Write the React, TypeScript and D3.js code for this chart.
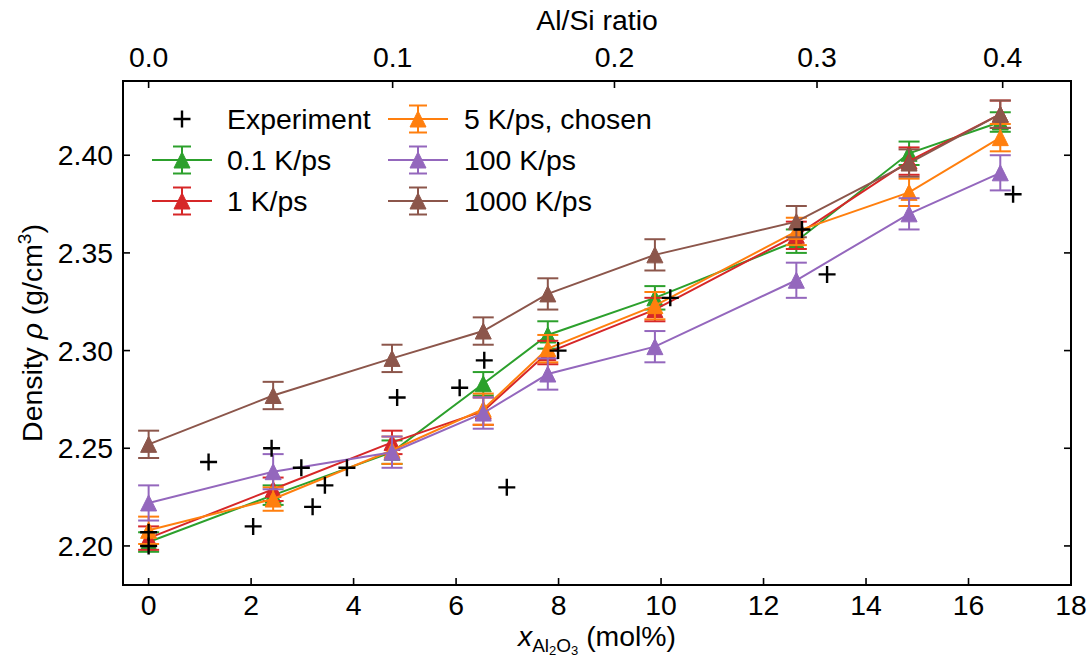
import React from "react";
import * as d3 from "d3";

// ---------- data ----------
const compositions = [0, 2.43, 4.75, 6.53, 7.79, 9.88, 12.64, 14.84, 16.62];

const rate01 = [2.202, 2.226, 2.248, 2.283, 2.308, 2.327, 2.356, 2.401, 2.417];
const rate01Err = [0.005, 0.005, 0.006, 0.006, 0.007, 0.006, 0.006, 0.006, 0.005];

const rate1 = [2.204, 2.229, 2.253, 2.269, 2.299, 2.321, 2.359, 2.397, 2.421];
const rate1Err = [0.006, 0.006, 0.006, 0.007, 0.006, 0.006, 0.007, 0.007, 0.007];

const rate5 = [2.208, 2.224, 2.249, 2.270, 2.301, 2.323, 2.361, 2.381, 2.409];
const rate5Err = [0.007, 0.006, 0.007, 0.008, 0.007, 0.007, 0.007, 0.007, 0.007];

const rate100 = [2.222, 2.238, 2.248, 2.268, 2.288, 2.302, 2.336, 2.370, 2.391];
const rate100Err = [0.009, 0.009, 0.008, 0.008, 0.008, 0.008, 0.009, 0.008, 0.009];

const rate1000 = [2.252, 2.277, 2.296, 2.310, 2.329, 2.349, 2.366, 2.396, 2.421];
const rate1000Err = [0.007, 0.007, 0.007, 0.007, 0.008, 0.008, 0.008, 0.007, 0.007];

const expX = [0, 0, 1.17, 2.04, 2.40, 2.98, 3.20, 3.44, 3.87, 4.85, 6.07, 6.55, 6.99, 7.99, 10.18, 12.75, 13.24, 16.87];
const expY = [2.207, 2.200, 2.243, 2.210, 2.250, 2.240, 2.220, 2.231, 2.240, 2.276, 2.281, 2.295, 2.230, 2.300, 2.327, 2.362, 2.339, 2.380];

const seriesNames = ["0.1 K/ps", "1 K/ps", "5 K/ps, chosen", "100 K/ps", "1000 K/ps"];
const seriesColors = ["#2ca02c", "#d62728", "#ff7f0e", "#9467bd", "#8c564b"];
const seriesValues = [rate01, rate1, rate5, rate100, rate1000];
const seriesErrors = [rate01Err, rate1Err, rate5Err, rate100Err, rate1000Err];

const xTicks = [0, 2, 4, 6, 8, 10, 12, 14, 16, 18];
const yTicks = [2.2, 2.25, 2.3, 2.35, 2.4];
const ratioTicks = [0.0, 0.1, 0.2, 0.3, 0.4];

// ---------- layout ----------
const W = 1087, H = 661;
const L = 123, R = 1071, T = 81, B = 585;
const FONT = "'Liberation Sans', Arial, Helvetica, sans-serif";
const FS = 28.4;
const TICK = 7;

const x = d3.scaleLinear().domain([-0.5, 18]).range([L, R]);
const y = d3.scaleLinear().domain([2.18, 2.438]).range([B, T]);
const ratioToMol = (r: number) => (100 * r) / (2 + r);

const TRI = 16;
const CAP = 21;

function Triangle({ cx, cy, color, s = TRI }: { cx: number; cy: number; color: string; s?: number }) {
  const h = s / 2;
  return (
    <path
      d={`M${cx},${cy - h}L${cx - h},${cy + h}L${cx + h},${cy + h}Z`}
      fill={color}
      stroke={color}
      strokeWidth={1}
      strokeLinejoin="miter"
    />
  );
}

function Cross({ cx, cy, s = 17 }: { cx: number; cy: number; s?: number }) {
  const h = s / 2;
  return (
    <path d={`M${cx - h},${cy}H${cx + h}M${cx},${cy - h}V${cy + h}`} stroke="#000" strokeWidth={2.4} fill="none" />
  );
}

function ErrorBar({ cx, top, bot, color, cap }: { cx: number; top: number; bot: number; color: string; cap: number }) {
  return (
    <g stroke={color} strokeWidth={2} fill="none">
      <line x1={cx} x2={cx} y1={top} y2={bot} />
      <line x1={cx - cap / 2} x2={cx + cap / 2} y1={top} y2={top} />
      <line x1={cx - cap / 2} x2={cx + cap / 2} y1={bot} y2={bot} />
    </g>
  );
}

export default function App() {
  const line = d3
    .line<number>()
    .x((_, i) => x(compositions[i]))
    .y((d) => y(d));

  const legendCols = [
    { hx0: 152, hx1: 212, tx: 227 },
    { hx0: 388, hx1: 448, tx: 464 },
  ];
  const legendRows = [119, 160, 201];
  const legendItems = [
    { type: "exp", label: "Experiment" },
    ...seriesNames.map((n, i) => ({ type: "ser", label: n, color: seriesColors[i] })),
  ];

  return (
    <div style={{ position: "absolute", left: 0, top: 0 }}>
      <svg width={W} height={H} style={{ display: "block", background: "#fff" }} fontFamily={FONT}>
        {/* series */}
        {seriesValues.map((vals, si) => {
          const color = seriesColors[si];
          const errs = seriesErrors[si];
          return (
            <g key={si}>
              {vals.map((v, i) => (
                <ErrorBar
                  key={i}
                  cx={x(compositions[i])}
                  top={y(v + errs[i])}
                  bot={y(v - errs[i])}
                  color={color}
                  cap={CAP}
                />
              ))}
              <path d={line(vals) || ""} stroke={color} strokeWidth={2} fill="none" />
              {vals.map((v, i) => (
                <Triangle key={i} cx={x(compositions[i])} cy={y(v)} color={color} />
              ))}
            </g>
          );
        })}
        {/* experiment */}
        <g>
          {expX.map((xv, i) => (
            <Cross key={i} cx={x(xv)} cy={y(expY[i])} />
          ))}
        </g>

        {/* frame */}
        <rect x={L} y={T} width={R - L} height={B - T} fill="none" stroke="#000" strokeWidth={2} />

        {/* bottom ticks */}
        {xTicks.map((t) => (
          <g key={"bx" + t}>
            <line x1={x(t)} x2={x(t)} y1={B} y2={B - TICK} stroke="#000" strokeWidth={1.6} />
            <text x={x(t)} y={615} textAnchor="middle" fontSize={FS}>
              {t}
            </text>
          </g>
        ))}
        {/* top ticks (Al/Si ratio) */}
        {ratioTicks.map((r) => (
          <g key={"tx" + r}>
            <line x1={x(ratioToMol(r))} x2={x(ratioToMol(r))} y1={T} y2={T + TICK} stroke="#000" strokeWidth={1.6} />
            <text x={x(ratioToMol(r))} y={67} textAnchor="middle" fontSize={FS}>
              {r.toFixed(1)}
            </text>
          </g>
        ))}
        {/* y ticks */}
        {yTicks.map((t) => (
          <g key={"y" + t}>
            <line x1={L} x2={L + TICK} y1={y(t)} y2={y(t)} stroke="#000" strokeWidth={1.6} />
            <line x1={R} x2={R - TICK} y1={y(t)} y2={y(t)} stroke="#000" strokeWidth={1.6} />
            <text x={113} y={y(t) + 10} textAnchor="end" fontSize={FS}>
              {t.toFixed(2)}
            </text>
          </g>
        ))}

        {/* axis titles */}
        <text x={(L + R) / 2} y={30} textAnchor="middle" fontSize={FS}>
          Al/Si ratio
        </text>
        <text x={(L + R) / 2} y={646} textAnchor="middle" fontSize={FS}>
          <tspan fontStyle="italic">x</tspan>
          <tspan fontSize={19} dy={6}>Al</tspan>
          <tspan fontSize={13} dy={3}>2</tspan>
          <tspan fontSize={19} dy={-3}>O</tspan>
          <tspan fontSize={13} dy={3}>3</tspan>
          <tspan fontSize={FS} dy={-9}>{" (mol%)"}</tspan>
        </text>
        <text transform={`translate(42, ${(T + B) / 2}) rotate(-90)`} textAnchor="middle" fontSize={FS}>
          Density <tspan fontStyle="italic">ρ</tspan> (g/cm
          <tspan fontSize={19} dy={-11}>3</tspan>
          <tspan dy={11}>)</tspan>
        </text>

        {/* legend */}
        {legendItems.map((it, k) => {
          const col = legendCols[k < 3 ? 0 : 1];
          const ry = legendRows[k % 3];
          const cx = (col.hx0 + col.hx1) / 2;
          return (
            <g key={"lg" + k}>
              {it.type === "exp" ? (
                <Cross cx={cx} cy={ry} />
              ) : (
                <g>
                  <ErrorBar cx={cx} top={ry - 13.5} bot={ry + 13.5} color={(it as any).color} cap={18} />
                  <line x1={col.hx0} x2={col.hx1} y1={ry} y2={ry} stroke={(it as any).color} strokeWidth={2} />
                  <Triangle cx={cx} cy={ry} color={(it as any).color} />
                </g>
              )}
              <text x={col.tx} y={ry + 10} fontSize={FS}>
                {it.label}
              </text>
            </g>
          );
        })}
      </svg>
    </div>
  );
}
